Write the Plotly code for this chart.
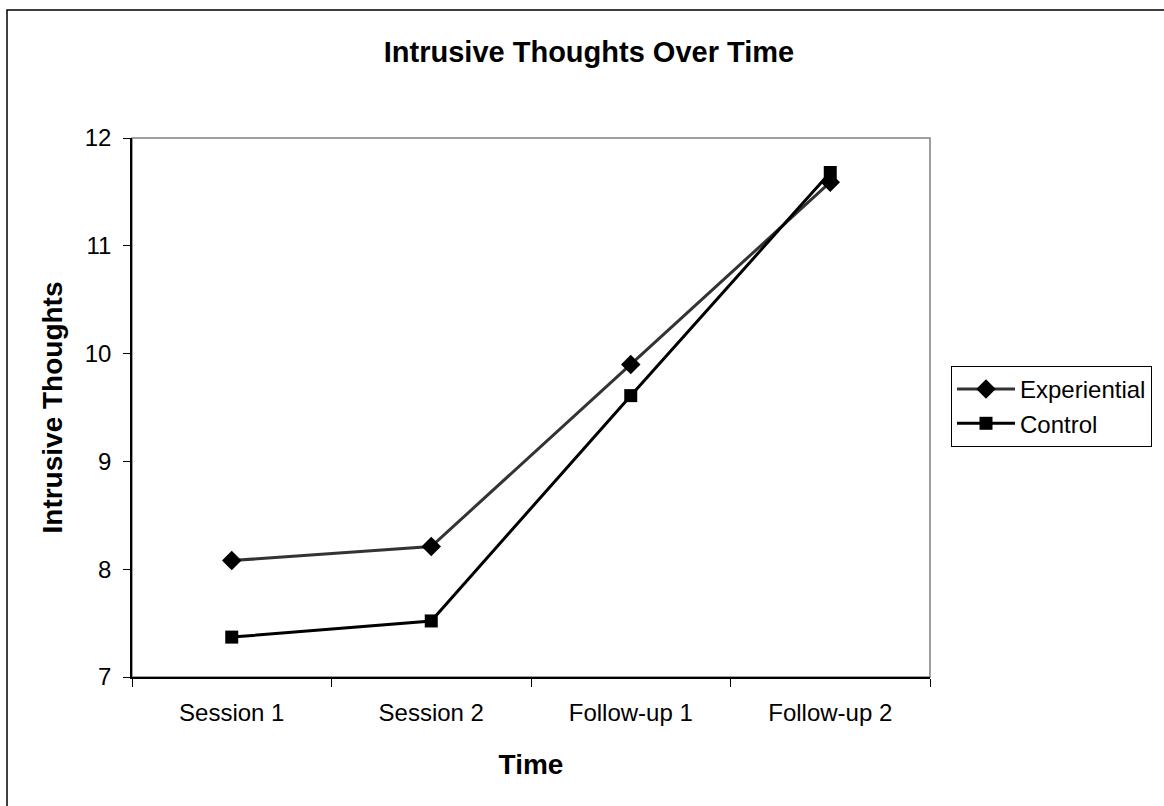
import plotly.graph_objects as go

categories = ["Session 1", "Session 2", "Follow-up 1", "Follow-up 2"]
experiential = [8.08, 8.21, 9.90, 11.59]
control = [7.37, 7.52, 9.61, 11.68]

W, H = 1164, 806
L, R, T, B = 132, 930, 138, 677

fig = go.Figure()
fig.add_trace(go.Scatter(
    x=categories, y=experiential, name="Experiential", mode="lines+markers",
    line=dict(color="#333333", width=3),
    marker=dict(symbol="diamond", size=15, color="black"),
))
fig.add_trace(go.Scatter(
    x=categories, y=control, name="Control", mode="lines+markers",
    line=dict(color="black", width=3),
    marker=dict(symbol="square", size=13, color="black"),
))

pw, ph = R - L, B - T
fig.add_shape(type="rect", xref="paper", yref="paper", x0=0, x1=1, y0=0, y1=1,
              line=dict(color="#808080", width=1.5), layer="below")
fig.add_shape(type="rect", xref="paper", yref="paper",
              x0=(7 - L) / pw, x1=(1175 - L) / pw,
              y0=(B - 820) / ph, y1=(B - 10) / ph,
              line=dict(color="black", width=1.5), layer="below")

fig.update_layout(
    width=W, height=H,
    margin=dict(l=L, r=W - R, t=T, b=H - B),
    paper_bgcolor="white", plot_bgcolor="white",
    font=dict(family="Liberation Sans, Arial, sans-serif", color="black", size=24),
    title=dict(text="<b>Intrusive Thoughts Over Time</b>", x=589 / W, xanchor="center",
               y=1 - 52 / H, yanchor="middle", font=dict(size=29)),
    xaxis=dict(type="category", range=[-0.5, 3.5], tickson="boundaries",
               ticks="outside", ticklen=8, tickcolor="black", tickwidth=1,
               showline=True, linecolor="black", linewidth=1.5, showgrid=False,
               tickfont=dict(size=24), ticklabelstandoff=13,
               title=dict(text="<b>Time</b>", font=dict(size=28), standoff=30)),
    yaxis=dict(range=[7, 12], dtick=1, ticks="outside", ticklen=7, tickcolor="black",
               showline=True, linecolor="black", linewidth=1.5, showgrid=False,
               zeroline=False, tickfont=dict(size=24), ticklabelstandoff=7,
               title=dict(text="<b>Intrusive Thoughts</b>", font=dict(size=28), standoff=14)),
    legend=dict(x=(951 - L) / pw, xanchor="left", y=(B - 366) / ph, yanchor="top",
                bordercolor="black", borderwidth=1, bgcolor="white",
                font=dict(size=24), itemwidth=58),
    showlegend=True,
)

fig.write_html("out.html", config={"displayModeBar": False},
               post_script="document.body.style.margin='0';")
